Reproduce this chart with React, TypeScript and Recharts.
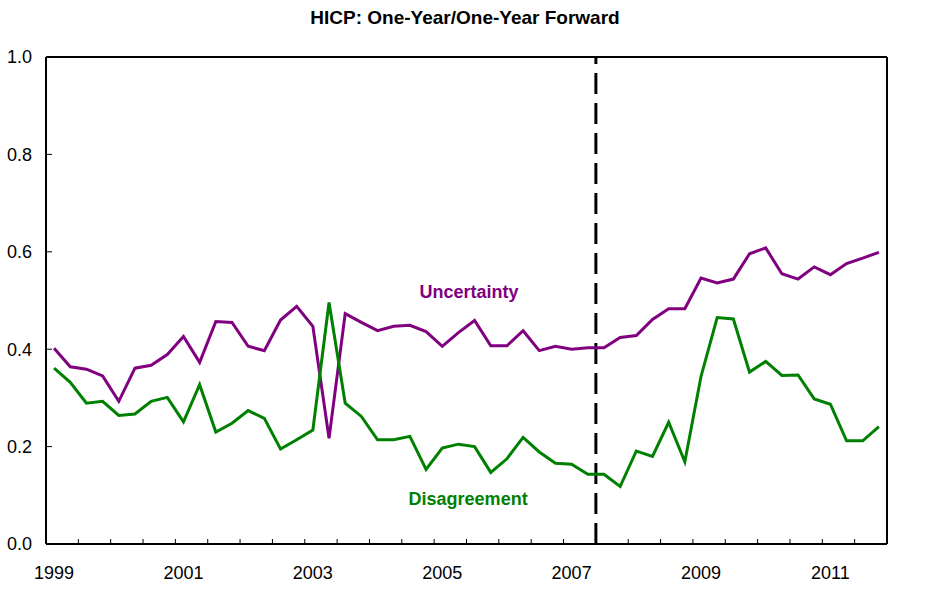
import React from 'react';
import { LineChart, Line, XAxis, YAxis, ReferenceLine, ReferenceDot } from 'recharts';

const FONT = '"Liberation Sans", Arial, sans-serif';

const years = ['1999', '2000', '2001', '2002', '2003', '2004', '2005', '2006', '2007', '2008', '2009', '2010', '2011'];
const quarterNames = ['Q1', 'Q2', 'Q3', 'Q4'];

// quarterly readings, 1999Q1 .. 2011Q4
const uncertainty = [
  0.402, 0.364, 0.359, 0.345, 0.293, 0.361, 0.367, 0.389, 0.426, 0.373,
  0.457, 0.455, 0.406, 0.397, 0.46, 0.488, 0.447, 0.217, 0.473, 0.455,
  0.438, 0.447, 0.449, 0.436, 0.406, 0.434, 0.459, 0.407, 0.407, 0.438,
  0.397, 0.406, 0.4, 0.403, 0.403, 0.424, 0.428, 0.461, 0.483, 0.483,
  0.546, 0.536, 0.544, 0.596, 0.608, 0.555, 0.544, 0.569, 0.553, 0.576,
  0.587, 0.599,
];
const disagreement = [
  0.361, 0.332, 0.289, 0.293, 0.264, 0.267, 0.293, 0.301, 0.251, 0.327,
  0.23, 0.248, 0.274, 0.258, 0.195, 0.214, 0.234, 0.496, 0.289, 0.262,
  0.214, 0.214, 0.221, 0.153, 0.197, 0.205, 0.2, 0.147, 0.175, 0.219,
  0.189, 0.166, 0.164, 0.143, 0.143, 0.118, 0.191, 0.18, 0.25, 0.169,
  0.344, 0.465, 0.462, 0.353, 0.375, 0.346, 0.347, 0.298, 0.287, 0.212,
  0.212, 0.241,
];

const yearLabels = ['1999', '2001', '2003', '2005', '2007', '2009', '2011'];
const valueTicks = [0, 0.2, 0.4, 0.6, 0.8, 1.0];
const breakQuarter = '2007Q3';

const quarters = years.flatMap((y) => quarterNames.map((q) => `${y}${q}`));
const data = quarters.map((q, i) => ({
  quarter: q,
  pos: i + 0.5,
  uncertainty: uncertainty[i],
  disagreement: disagreement[i],
}));

// half-year tick marks on band edges, year labels under Q1 of each labelled year
const markTicks = quarters
  .map((q, i) => (q.endsWith('Q1') || q.endsWith('Q3') ? i : -1))
  .filter((i) => i >= 0)
  .concat([quarters.length]);
const labelTicks = yearLabels.map((y) => quarters.indexOf(`${y}Q1`) + 0.5);
const xTicks = [...markTicks, ...labelTicks].sort((a, b) => a - b);

const XTick = (props: any) => {
  const { x, y, payload } = props;
  const v = payload.value;
  if (Number.isInteger(v)) {
    return <line x1={x} x2={x} y1={y} y2={y - 5} stroke="#000" strokeWidth={1} />;
  }
  return (
    <text x={x} y={y + 35} textAnchor="middle" fontSize={18} fill="#000" fontFamily={FONT}>
      {quarters[Math.floor(v)].slice(0, 4)}
    </text>
  );
};

const LeftTick = (props: any) => {
  const { x, y, payload } = props;
  return (
    <g>
      <line x1={x} x2={x + 6} y1={y} y2={y} stroke="#000" strokeWidth={1} />
      <text x={x - 14} y={y} dy="0.36em" textAnchor="end" fontSize={18} fill="#000" fontFamily={FONT}>
        {Number(payload.value).toFixed(1)}
      </text>
    </g>
  );
};

const RightTick = (props: any) => {
  const { x, y, payload } = props;
  return (
    <g>
      <line x1={x - 6} x2={x} y1={y} y2={y} stroke="#000" strokeWidth={1} />
      <text x={x + 15} y={y} dy="0.36em" textAnchor="start" fontSize={18} fill="#000" fontFamily={FONT}>
        {Number(payload.value).toFixed(1)}
      </text>
    </g>
  );
};

export default function App() {
  return (
    <div style={{ position: 'absolute', left: 0, top: 0, width: 932, height: 591, background: '#fff' }}>
      <div
        style={{
          position: 'absolute',
          left: 0,
          top: 8,
          width: 930,
          textAlign: 'center',
          fontFamily: FONT,
          fontWeight: 'bold',
          fontSize: 19,
          lineHeight: '19px',
          color: '#000',
        }}
      >
        HICP: One-Year/One-Year Forward
      </div>
      <LineChart
        width={932}
        height={591}
        data={data}
        margin={{ top: 57, right: 5, bottom: 7, left: 6 }}
        style={{ fontFamily: FONT }}
      >
        <XAxis
          dataKey="pos"
          type="number"
          domain={[0, quarters.length]}
          ticks={xTicks}
          interval={0}
          height={40}
          tickSize={0}
          tickMargin={0}
          tickLine={false}
          axisLine={{ stroke: '#000', strokeWidth: 2 }}
          tick={XTick}
        />
        <YAxis
          yAxisId="left"
          domain={[0, 1]}
          ticks={valueTicks}
          interval={0}
          width={40}
          tickSize={0}
          tickMargin={0}
          tickLine={false}
          axisLine={{ stroke: '#000', strokeWidth: 2 }}
          tick={LeftTick}
        />
        <YAxis
          yAxisId="right"
          orientation="right"
          domain={[0, 1]}
          ticks={valueTicks}
          interval={0}
          width={40}
          tickSize={0}
          tickMargin={0}
          tickLine={false}
          axisLine={{ stroke: '#000', strokeWidth: 2 }}
          tick={RightTick}
        />
        <ReferenceLine yAxisId="left" y={1} stroke="#000" strokeWidth={2} />
        <ReferenceLine
          yAxisId="left"
          x={quarters.indexOf(breakQuarter)}
          stroke="#000"
          strokeWidth={3}
          strokeDasharray="21 9"
        />
        <Line
          yAxisId="left"
          type="linear"
          dataKey="uncertainty"
          stroke="#800080"
          strokeWidth={3}
          dot={false}
          isAnimationActive={false}
        />
        <Line
          yAxisId="left"
          type="linear"
          dataKey="disagreement"
          stroke="#008000"
          strokeWidth={3}
          dot={false}
          isAnimationActive={false}
        />
        <ReferenceDot
          yAxisId="left"
          x={26.15}
          y={0.518}
          r={0}
          fill="none"
          stroke="none"
          label={{ value: 'Uncertainty', position: 'center', fill: '#800080', fontSize: 18, fontWeight: 'bold', fontFamily: FONT }}
        />
        <ReferenceDot
          yAxisId="left"
          x={26.1}
          y={0.0925}
          r={0}
          fill="none"
          stroke="none"
          label={{ value: 'Disagreement', position: 'center', fill: '#008000', fontSize: 18, fontWeight: 'bold', fontFamily: FONT }}
        />
      </LineChart>
    </div>
  );
}
